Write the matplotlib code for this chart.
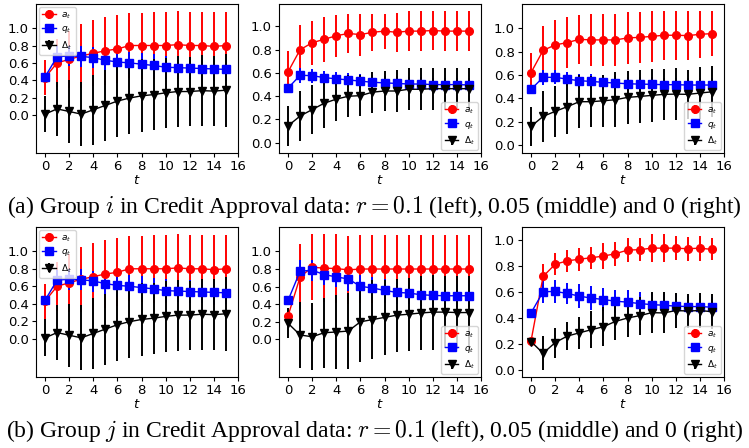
import numpy as np
import matplotlib
matplotlib.use("Agg")
import matplotlib.pyplot as plt

t = list(range(16))
xticks = [0, 2, 4, 6, 8, 10, 12, 14, 16]
yticks = [0.0, 0.2, 0.4, 0.6, 0.8, 1.0]
labels = [r"$a_t$", r"$q_t$", r"$\Delta_t$"]

# ---- Group i, r = 0.1 (left) ----
i01_a = [0.43, 0.60, 0.64, 0.68, 0.71, 0.74, 0.76, 0.80, 0.80, 0.80, 0.80, 0.81, 0.80, 0.80, 0.79, 0.80]
i01_a_err = [0.20, 0.28, 0.33, 0.37, 0.38, 0.39, 0.39, 0.37, 0.38, 0.39, 0.39, 0.39, 0.39, 0.39, 0.40, 0.39]
i01_q = [0.44, 0.67, 0.68, 0.675, 0.66, 0.63, 0.61, 0.60, 0.585, 0.57, 0.55, 0.545, 0.54, 0.535, 0.53, 0.525]
i01_q_err = [0.04, 0.12, 0.12, 0.12, 0.12, 0.13, 0.13, 0.13, 0.13, 0.13, 0.13, 0.13, 0.13, 0.13, 0.13, 0.13]
i01_d = [0.01, 0.07, 0.04, 0.01, 0.06, 0.11, 0.16, 0.195, 0.22, 0.235, 0.255, 0.27, 0.27, 0.28, 0.275, 0.285]
i01_d_err = [0.21, 0.315, 0.36, 0.37, 0.405, 0.405, 0.415, 0.415, 0.42, 0.405, 0.405, 0.405, 0.395, 0.405, 0.405, 0.42]

# ---- Group i, r = 0.05 (middle) ----
i005_a = [0.61, 0.80, 0.86, 0.89, 0.92, 0.94, 0.93, 0.95, 0.96, 0.95, 0.96, 0.96, 0.965, 0.96, 0.96, 0.96]
i005_a_err = [0.18, 0.21, 0.19, 0.195, 0.18, 0.17, 0.18, 0.16, 0.15, 0.17, 0.17, 0.17, 0.17, 0.17, 0.17, 0.17]
i005_q = [0.47, 0.58, 0.577, 0.56, 0.55, 0.54, 0.53, 0.52, 0.515, 0.51, 0.505, 0.505, 0.50, 0.50, 0.50, 0.497]
i005_q_err = [0.03, 0.065, 0.06, 0.06, 0.06, 0.06, 0.06, 0.06, 0.06, 0.06, 0.06, 0.06, 0.06, 0.06, 0.06, 0.06]
i005_d = [0.145, 0.23, 0.285, 0.34, 0.375, 0.40, 0.405, 0.435, 0.445, 0.445, 0.46, 0.46, 0.465, 0.465, 0.465, 0.465]
i005_d_err = [0.175, 0.215, 0.21, 0.21, 0.185, 0.18, 0.175, 0.175, 0.17, 0.18, 0.18, 0.18, 0.18, 0.18, 0.18, 0.18]

# ---- Group i, r = 0 (right) ----
i0_a = [0.62, 0.81, 0.857, 0.877, 0.905, 0.90, 0.90, 0.90, 0.917, 0.922, 0.93, 0.94, 0.94, 0.937, 0.948, 0.954]
i0_a_err = [0.17, 0.21, 0.215, 0.22, 0.21, 0.22, 0.22, 0.22, 0.22, 0.22, 0.22, 0.21, 0.21, 0.21, 0.20, 0.19]
i0_q = [0.476, 0.579, 0.579, 0.564, 0.55, 0.544, 0.536, 0.53, 0.524, 0.521, 0.519, 0.516, 0.516, 0.513, 0.513, 0.513]
i0_q_err = [0.03, 0.065, 0.06, 0.06, 0.06, 0.06, 0.06, 0.06, 0.06, 0.06, 0.06, 0.06, 0.06, 0.06, 0.06, 0.06]
i0_d = [0.158, 0.244, 0.287, 0.327, 0.37, 0.37, 0.378, 0.387, 0.407, 0.415, 0.424, 0.433, 0.435, 0.433, 0.444, 0.455]
i0_d_err = [0.17, 0.22, 0.22, 0.23, 0.227, 0.22, 0.223, 0.238, 0.229, 0.225, 0.224, 0.22, 0.22, 0.213, 0.22, 0.22]

# ---- Group j, r = 0.1 (left) ----
j01_a = [0.43, 0.60, 0.64, 0.68, 0.71, 0.74, 0.76, 0.80, 0.80, 0.80, 0.80, 0.81, 0.80, 0.80, 0.79, 0.80]
j01_a_err = [0.20, 0.28, 0.33, 0.37, 0.38, 0.39, 0.39, 0.37, 0.38, 0.39, 0.39, 0.39, 0.39, 0.39, 0.40, 0.39]
j01_q = [0.44, 0.67, 0.68, 0.675, 0.66, 0.63, 0.61, 0.60, 0.585, 0.57, 0.55, 0.545, 0.54, 0.535, 0.53, 0.525]
j01_q_err = [0.04, 0.12, 0.12, 0.12, 0.12, 0.13, 0.13, 0.13, 0.13, 0.13, 0.13, 0.13, 0.13, 0.13, 0.13, 0.13]
j01_d = [0.01, 0.07, 0.04, 0.01, 0.06, 0.11, 0.16, 0.195, 0.22, 0.235, 0.255, 0.27, 0.27, 0.28, 0.275, 0.285]
j01_d_err = [0.21, 0.315, 0.36, 0.37, 0.405, 0.405, 0.415, 0.415, 0.42, 0.405, 0.405, 0.405, 0.395, 0.405, 0.405, 0.42]

# ---- Group j, r = 0.05 (middle) ----
j005_a = [0.267, 0.71, 0.82, 0.81, 0.805, 0.79, 0.80, 0.80, 0.80, 0.80, 0.80, 0.80, 0.80, 0.80, 0.80, 0.80]
j005_a_err = [0.06, 0.37, 0.375, 0.39, 0.39, 0.39, 0.39, 0.39, 0.39, 0.39, 0.39, 0.39, 0.39, 0.39, 0.39, 0.39]
j005_q = [0.443, 0.775, 0.786, 0.737, 0.71, 0.687, 0.603, 0.584, 0.557, 0.534, 0.527, 0.508, 0.50, 0.496, 0.496, 0.496]
j005_q_err = [0.03, 0.125, 0.12, 0.12, 0.12, 0.14, 0.13, 0.13, 0.13, 0.13, 0.13, 0.13, 0.13, 0.13, 0.13, 0.13]
j005_d = [0.183, 0.05, 0.03, 0.076, 0.084, 0.095, 0.20, 0.225, 0.25, 0.275, 0.286, 0.30, 0.31, 0.31, 0.305, 0.305]
j005_d_err = [0.17, 0.38, 0.38, 0.40, 0.42, 0.43, 0.456, 0.445, 0.43, 0.415, 0.416, 0.415, 0.425, 0.41, 0.41, 0.41]

# ---- Group j, r = 0 (right) ----
j0_a = [0.227, 0.723, 0.816, 0.842, 0.855, 0.866, 0.879, 0.897, 0.925, 0.928, 0.94, 0.94, 0.94, 0.935, 0.94, 0.93]
j0_a_err = [0.02, 0.093, 0.085, 0.083, 0.088, 0.085, 0.10, 0.093, 0.09, 0.087, 0.11, 0.11, 0.09, 0.093, 0.096, 0.085]
j0_q = [0.442, 0.605, 0.607, 0.592, 0.571, 0.556, 0.545, 0.532, 0.525, 0.514, 0.506, 0.501, 0.494, 0.491, 0.491, 0.486]
j0_q_err = [0.02, 0.09, 0.09, 0.08, 0.09, 0.09, 0.09, 0.09, 0.09, 0.09, 0.09, 0.09, 0.09, 0.08, 0.08, 0.08]
j0_d = [0.222, 0.132, 0.214, 0.264, 0.289, 0.313, 0.336, 0.377, 0.403, 0.421, 0.444, 0.442, 0.46, 0.457, 0.46, 0.452]
j0_d_err = [0.02, 0.13, 0.115, 0.11, 0.123, 0.14, 0.15, 0.144, 0.145, 0.147, 0.16, 0.158, 0.134, 0.134, 0.134, 0.134]

captions = [
    r"(a) Group $i$ in Credit Approval data: $r = 0.1$ (left), 0.05 (middle) and 0 (right)",
    r"(b) Group $j$ in Credit Approval data: $r = 0.1$ (left), 0.05 (middle) and 0 (right)",
]

panels = [
    (i01_a, i01_a_err, i01_q, i01_q_err, i01_d, i01_d_err, "upper left"),
    (i005_a, i005_a_err, i005_q, i005_q_err, i005_d, i005_d_err, "lower right"),
    (i0_a, i0_a_err, i0_q, i0_q_err, i0_d, i0_d_err, "lower right"),
    (j01_a, j01_a_err, j01_q, j01_q_err, j01_d, j01_d_err, "upper left"),
    (j005_a, j005_a_err, j005_q, j005_q_err, j005_d, j005_d_err, "lower right"),
    (j0_a, j0_a_err, j0_q, j0_q_err, j0_d, j0_d_err, "lower right"),
]

W, H = 749, 448
fig = plt.figure(figsize=(W / 100, H / 100), dpi=100)

col_px = [(36, 238), (279, 481), (522, 724)]
row_px = [(4, 153), (227, 377)]

for k, (a, ae, q, qe, d, de, loc) in enumerate(panels):
    r, c = divmod(k, 3)
    x0, x1 = col_px[c]
    y0, y1 = row_px[r]
    ax = fig.add_axes([x0 / W, 1 - y1 / H, (x1 - x0) / W, (y1 - y0) / H])
    ax.errorbar(t, a, yerr=ae, fmt="-o", color="red", ms=5.5, lw=1.0, elinewidth=1.4, label=labels[0])
    ax.errorbar(t, q, yerr=qe, fmt="-s", color="blue", ms=5.5, lw=1.0, elinewidth=1.4, label=labels[1])
    ax.errorbar(t, d, yerr=de, fmt="-v", color="black", ms=5.5, lw=1.0, elinewidth=1.4, label=labels[2])
    ax.set_xticks(xticks)
    ax.set_xlim(-0.75, 16)
    ax.set_yticks(yticks)
    ax.tick_params(labelsize=9.5, length=3, pad=2)
    ax.set_xlabel(r"$t$", fontsize=9.5, labelpad=1)
    ax.legend(loc=loc, fontsize=6.5, handlelength=1.5, handletextpad=0.6,
              borderpad=0.4, labelspacing=0.4, borderaxespad=0.3)

for txt, yc in zip(captions, [207, 431]):
    fig.text(0.5, 1 - yc / H, txt, ha="center", va="center", fontsize=17,
             family="Liberation Serif", math_fontfamily="cm")

fig.savefig("out.png", dpi=100)
